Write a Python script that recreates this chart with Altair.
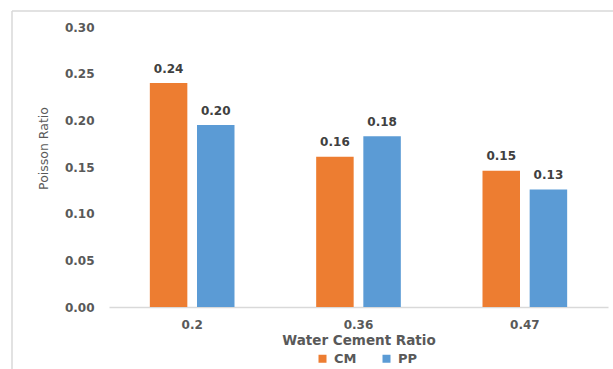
import altair as alt
import pandas as pd

# Water/cement ratios on the x axis and Poisson ratio per mix
ratios = ["0.2", "0.36", "0.47"]
series = ["CM", "PP"]
cm_values = [0.240, 0.161, 0.146]
pp_values = [0.195, 0.183, 0.126]
y_ticks = [0.0, 0.05, 0.10, 0.15, 0.20, 0.25, 0.30]
colors = ["#ED7D31", "#5B9BD5"]

rows = []
for r, c, p in zip(ratios, cm_values, pp_values):
    rows.append({"ratio": r, "series": "CM", "value": c})
    rows.append({"ratio": r, "series": "PP", "value": p})
df = pd.DataFrame(rows)

FONT = "DejaVu Sans"
GRAY = "#595959"

x_enc = alt.X(
    "ratio:N",
    sort=ratios,
    scale=alt.Scale(paddingInner=0.491, paddingOuter=0.2455),
    axis=alt.Axis(
        title="Water Cement Ratio",
        labelAngle=0,
        labelFont=FONT,
        labelFontSize=12,
        labelFontWeight="bold",
        labelColor=GRAY,
        labelPadding=12,
        ticks=False,
        domainColor="#d9d9d9",
        domainWidth=1.5,
        titleFont=FONT,
        titleFontSize=13.5,
        titleFontWeight="bold",
        titleColor=GRAY,
        titleY=33,
        titleBaseline="middle",
    ),
)
xoff_enc = alt.XOffset("series:N", sort=series, scale=alt.Scale(paddingInner=0.205, paddingOuter=0))
y_enc = alt.Y(
    "value:Q",
    scale=alt.Scale(domain=[0, 0.3], nice=False),
    axis=alt.Axis(
        title="Poisson Ratio",
        values=y_ticks,
        format=".2f",
        grid=False,
        domain=False,
        ticks=False,
        labelFont=FONT,
        labelFontSize=12,
        labelFontWeight="bold",
        labelColor=GRAY,
        labelPadding=15,
        titleFont=FONT,
        titleFontSize=12.5,
        titleFontWeight="normal",
        titleColor=GRAY,
        titleAngle=270,
        titleX=-66,
        titleY=121,
        titleAlign="center",
        titleBaseline="middle",
    ),
)
color_enc = alt.Color(
    "series:N",
    sort=series,
    scale=alt.Scale(domain=series, range=colors),
    legend=alt.Legend(
        title=None,
        orient="none",
        direction="horizontal",
        legendX=207,
        legendY=325,
        symbolType="square",
        symbolSize=64,
        symbolStrokeWidth=0,
        labelFont=FONT,
        labelFontSize=13,
        labelFontWeight="bold",
        labelColor=GRAY,
        labelOffset=5,
        columnPadding=23,
    ),
)

bars = alt.Chart(df).mark_bar().encode(
    x=x_enc, xOffset=xoff_enc, y=y_enc, color=color_enc
)

labels = alt.Chart(df).mark_text(
    font=FONT, fontSize=12, fontWeight="bold", color="#404040",
    baseline="alphabetic", dy=-10.5,
).encode(
    x=alt.X("ratio:N", sort=ratios),
    xOffset=alt.XOffset("series:N", sort=series),
    y="value:Q",
    text=alt.Text("value:Q", format=".2f"),
)

# light frame along the top and left of the chart area
frame = alt.Data(values=[{}])
left_edge = alt.Chart(frame).mark_rule(color="#d9d9d9", strokeWidth=1.5).encode(
    x=alt.value(-97), y=alt.value(-16), y2=alt.value(342)
)
top_edge = alt.Chart(frame).mark_rule(color="#d9d9d9", strokeWidth=1.5).encode(
    x=alt.value(-97), x2=alt.value(504), y=alt.value(-16)
)

chart = (
    alt.layer(bars, labels, left_edge, top_edge)
    .properties(
        width=499,
        height=280,
        autosize=alt.AutoSizeParams(type="none"),
        padding={"left": 109, "top": 27, "right": 5, "bottom": 62},
        background="white",
    )
    .configure_view(stroke=None)
)

chart.save("out.html", embed_options={"renderer": "svg", "actions": False})
